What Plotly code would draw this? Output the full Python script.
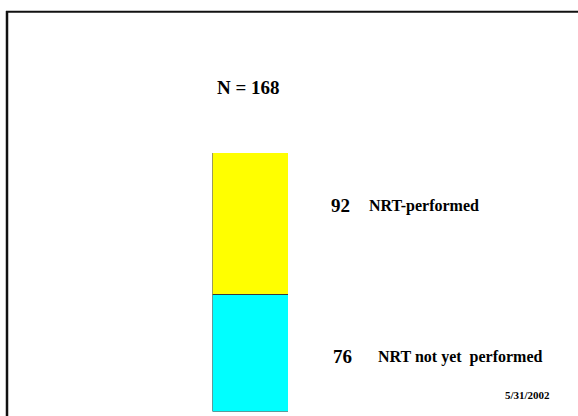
import plotly.graph_objects as go

# Patient counts by NRT status (stacked bottom to top)
groups = ["NRT not yet  performed", "NRT-performed"]
counts = [76, 92]
colors = ["#00FFFF", "#FFFF00"]
total_label = "N = " + str(sum(counts))
date_label = "5/31/2002"

W, H = 578, 416
FONT = "'Liberation Serif', 'Times New Roman', serif"

fig = go.Figure()
for name, val, col in zip(groups, counts, colors):
    fig.add_trace(go.Bar(
        x=["all"], y=[val], name=name,
        marker=dict(color=col, line=dict(color="#3a3a3a", width=1)),
        width=1.0, showlegend=False, hoverinfo="skip",
    ))

# page helpers: pixel -> paper fraction
def px(x):
    return x / W

def py(y):
    return 1 - y / H

annotations = [
    dict(text="<b>" + total_label + "</b>", x=px(248.5), y=py(87),
         xanchor="center", yanchor="middle", font=dict(size=19)),
    dict(text="<b>" + str(counts[1]) + "</b>", x=px(329), y=py(205),
         xanchor="left", yanchor="middle", font=dict(size=19)),
    dict(text="<b>" + groups[1] + "</b>", x=px(366.5), y=py(206),
         xanchor="left", yanchor="middle", font=dict(size=16)),
    dict(text="<b>" + str(counts[0]) + "</b>", x=px(330.5), y=py(356.5),
         xanchor="left", yanchor="middle", font=dict(size=19)),
    dict(text="<b>" + groups[0].replace("  ", "\u00a0 ") + "</b>", x=px(375.5), y=py(357),
         xanchor="left", yanchor="middle", font=dict(size=16)),
    dict(text="<b>" + date_label + "</b>", x=px(503), y=py(395),
         xanchor="left", yanchor="middle", font=dict(size=11)),
]
for a in annotations:
    a.update(xref="paper", yref="paper", showarrow=False)
    a["font"].update(family=FONT, color="#000000")

fig.update_layout(
    width=W, height=H,
    margin=dict(l=0, r=0, t=0, b=0),
    paper_bgcolor="white", plot_bgcolor="rgba(0,0,0,0)",
    barmode="stack", bargap=0,
    xaxis=dict(domain=[px(212.5), px(288)], range=[-0.5, 0.5], visible=False,
               fixedrange=True),
    yaxis=dict(domain=[1 - 411.5 / H, 1 - 153 / H], range=[0, sum(counts)],
               visible=False, fixedrange=True),
    annotations=annotations,
    shapes=[
        dict(type="line", xref="paper", yref="paper", x0=px(6), x1=1,
             y0=py(11.7), y1=py(11.7), line=dict(color="#111111", width=2)),
        dict(type="line", xref="paper", yref="paper", x0=px(7), x1=px(7),
             y0=0, y1=py(11), line=dict(color="#111111", width=2.5)),
    ],
)

fig.write_html("out.html")
